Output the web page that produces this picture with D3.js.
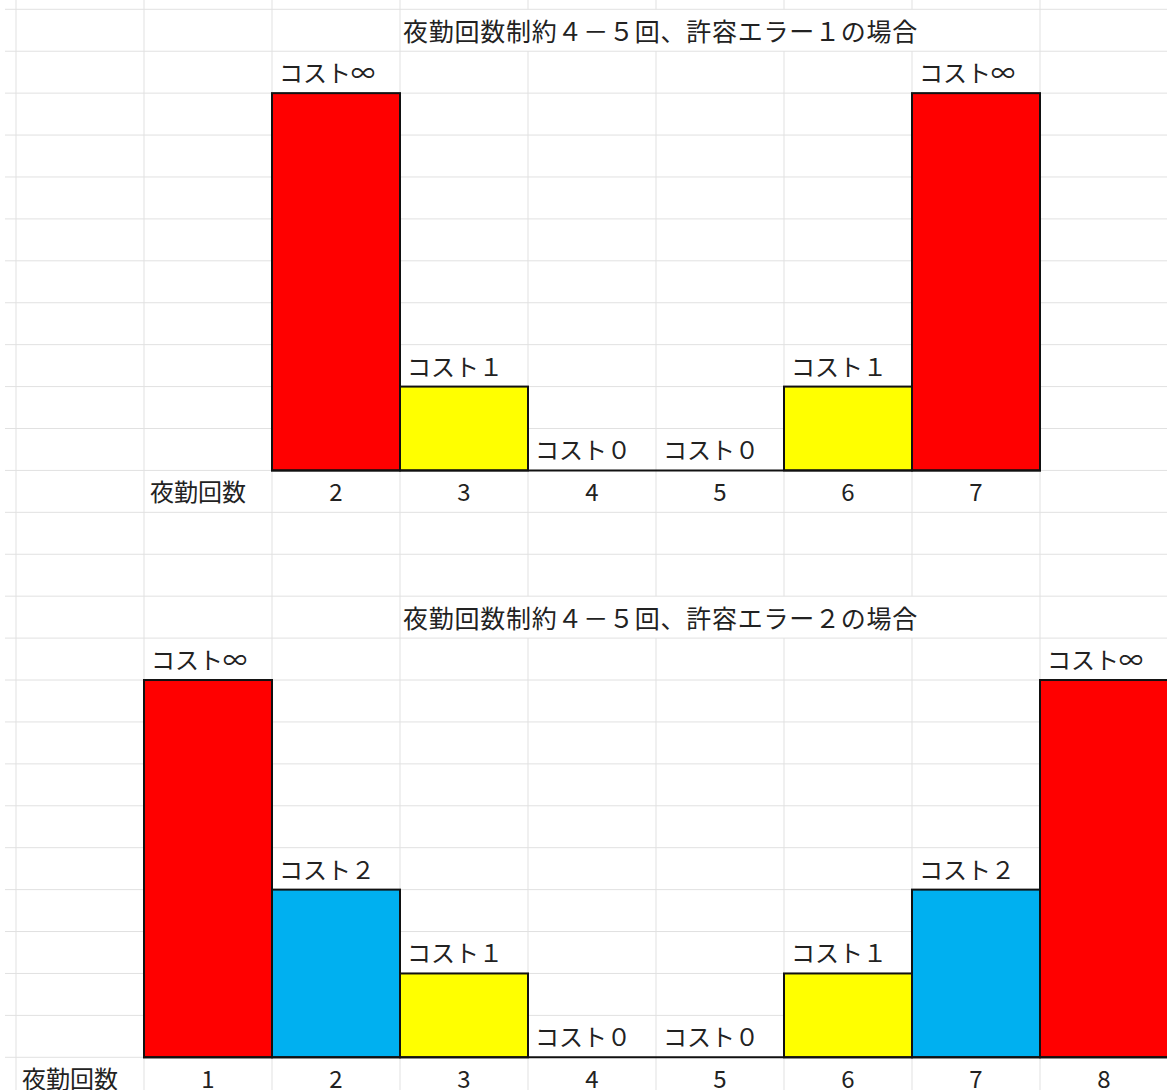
<!DOCTYPE html>
<html>
<head>
	<meta charset="utf-8">
	<title>index</title>
	<script src="https://d3js.org/d3.v7.min.js" charset="utf-8"></script>
	<style>
		body { margin:0; background:#fff; }
		svg { display:block; }
		text { font-family:"Noto Sans CJK JP", sans-serif; fill:#222; }
	</style>
</head>
<body>
<script>

	// chart 1 : error 1
	var title1 = "夜勤回数制約４－５回、許容エラー１の場合";
	var cats1 = [2, 3, 4, 5, 6, 7];
	var costs1 = [Infinity, 1, 0, 0, 1, Infinity];

	// chart 2 : error 2
	var title2 = "夜勤回数制約４－５回、許容エラー２の場合";
	var cats2 = [1, 2, 3, 4, 5, 6, 7, 8];
	var costs2 = [Infinity, 2, 1, 0, 0, 1, 2, Infinity];

	var axisName = "夜勤回数";
	var costColors = { 1: "#ffff00", 2: "#00b0f0", Infinity: "#ff0000" };
	var fullDigits = { 0: "０", 1: "１", 2: "２", Infinity: "∞" };

	var W = 1167, H = 1090;
	var colW = 128, colLeft = 16;
	var rowH = 41.92, rowTop = 9.3;

	function rowY(k) { return rowTop + k * rowH; }

	var svg = d3.select("body").append("svg").attr("width", W).attr("height", H);

	drawGrid();
	drawChart(title1, cats1, costs1, 0, 272);
	drawChart(title2, cats2, costs2, 14, 144);

	function drawGrid() {
		var g = svg.append("g").attr("stroke", "#e1e1e1").attr("stroke-width", 1);
		for (var k = 0; rowY(k) < H; k++) {
			g.append("line").attr("x1", 5).attr("x2", W)
				.attr("y1", rowY(k)).attr("y2", rowY(k));
		}
		for (var c = 0; colLeft + c * colW < W + 2; c++) {
			var x = colLeft + c * colW;
			// the titles overflow their cell, so lines under them are hidden
			if (x > 450 && x < 1000) {
				[[0, rowY(0)], [rowY(1), rowY(14)], [rowY(15), H]].forEach(function(s) {
					g.append("line").attr("x1", x).attr("x2", x).attr("y1", s[0]).attr("y2", s[1]);
				});
			} else {
				g.append("line").attr("x1", x).attr("x2", x).attr("y1", 0).attr("y2", H);
			}
		}
	} // drawGrid

	function drawChart(title, cats, costs, titleRow, left) {
		var bottom = rowY(titleRow + 11);
		var x = d3.scaleBand().domain(cats).range([left, left + cats.length * colW]);
		var y = d3.scaleLinear().domain([0, 4.5]).range([bottom, bottom - 9 * rowH]).clamp(true);

		svg.append("text")
			.attr("x", 403).attr("y", rowY(titleRow + 1) - 10)
			.attr("font-size", 25)
			.attr("letter-spacing", 0.75)
			.text(title);

		var data = cats.map(function(c, i) { return { cat: c, cost: costs[i] }; });

		svg.selectAll(null).data(data.filter(function(d) { return d.cost > 0; }))
			.enter().append("rect")
			.attr("x", function(d) { return x(d.cat); })
			.attr("y", function(d) { return y(d.cost); })
			.attr("width", x.bandwidth())
			.attr("height", function(d) { return bottom - y(d.cost); })
			.attr("fill", function(d) { return costColors[d.cost]; })
			.attr("stroke", "#111").attr("stroke-width", 2);

		svg.append("line")
			.attr("x1", x.range()[0] - 1).attr("x2", x.range()[1] + 1)
			.attr("y1", bottom).attr("y2", bottom)
			.attr("stroke", "#111").attr("stroke-width", 2);

		svg.selectAll(null).data(data).enter().append("text")
			.attr("x", function(d) { return x(d.cat) + 7; })
			.attr("y", function(d) { return y(d.cost) - 11; })
			.attr("font-size", 24)
			.text(function(d) { return "コスト" + fullDigits[d.cost]; });

		svg.selectAll(null).data(cats).enter().append("text")
			.attr("x", function(d) { return x(d) + x.bandwidth() / 2; })
			.attr("y", bottom + rowH - 11)
			.attr("text-anchor", "middle")
			.attr("font-size", 24)
			.text(function(d) { return d; });

		svg.append("text")
			.attr("x", left - colW + 6).attr("y", bottom + rowH - 11)
			.attr("font-size", 24)
			.text(axisName);
	} // drawChart

</script>
</body>
</html>
